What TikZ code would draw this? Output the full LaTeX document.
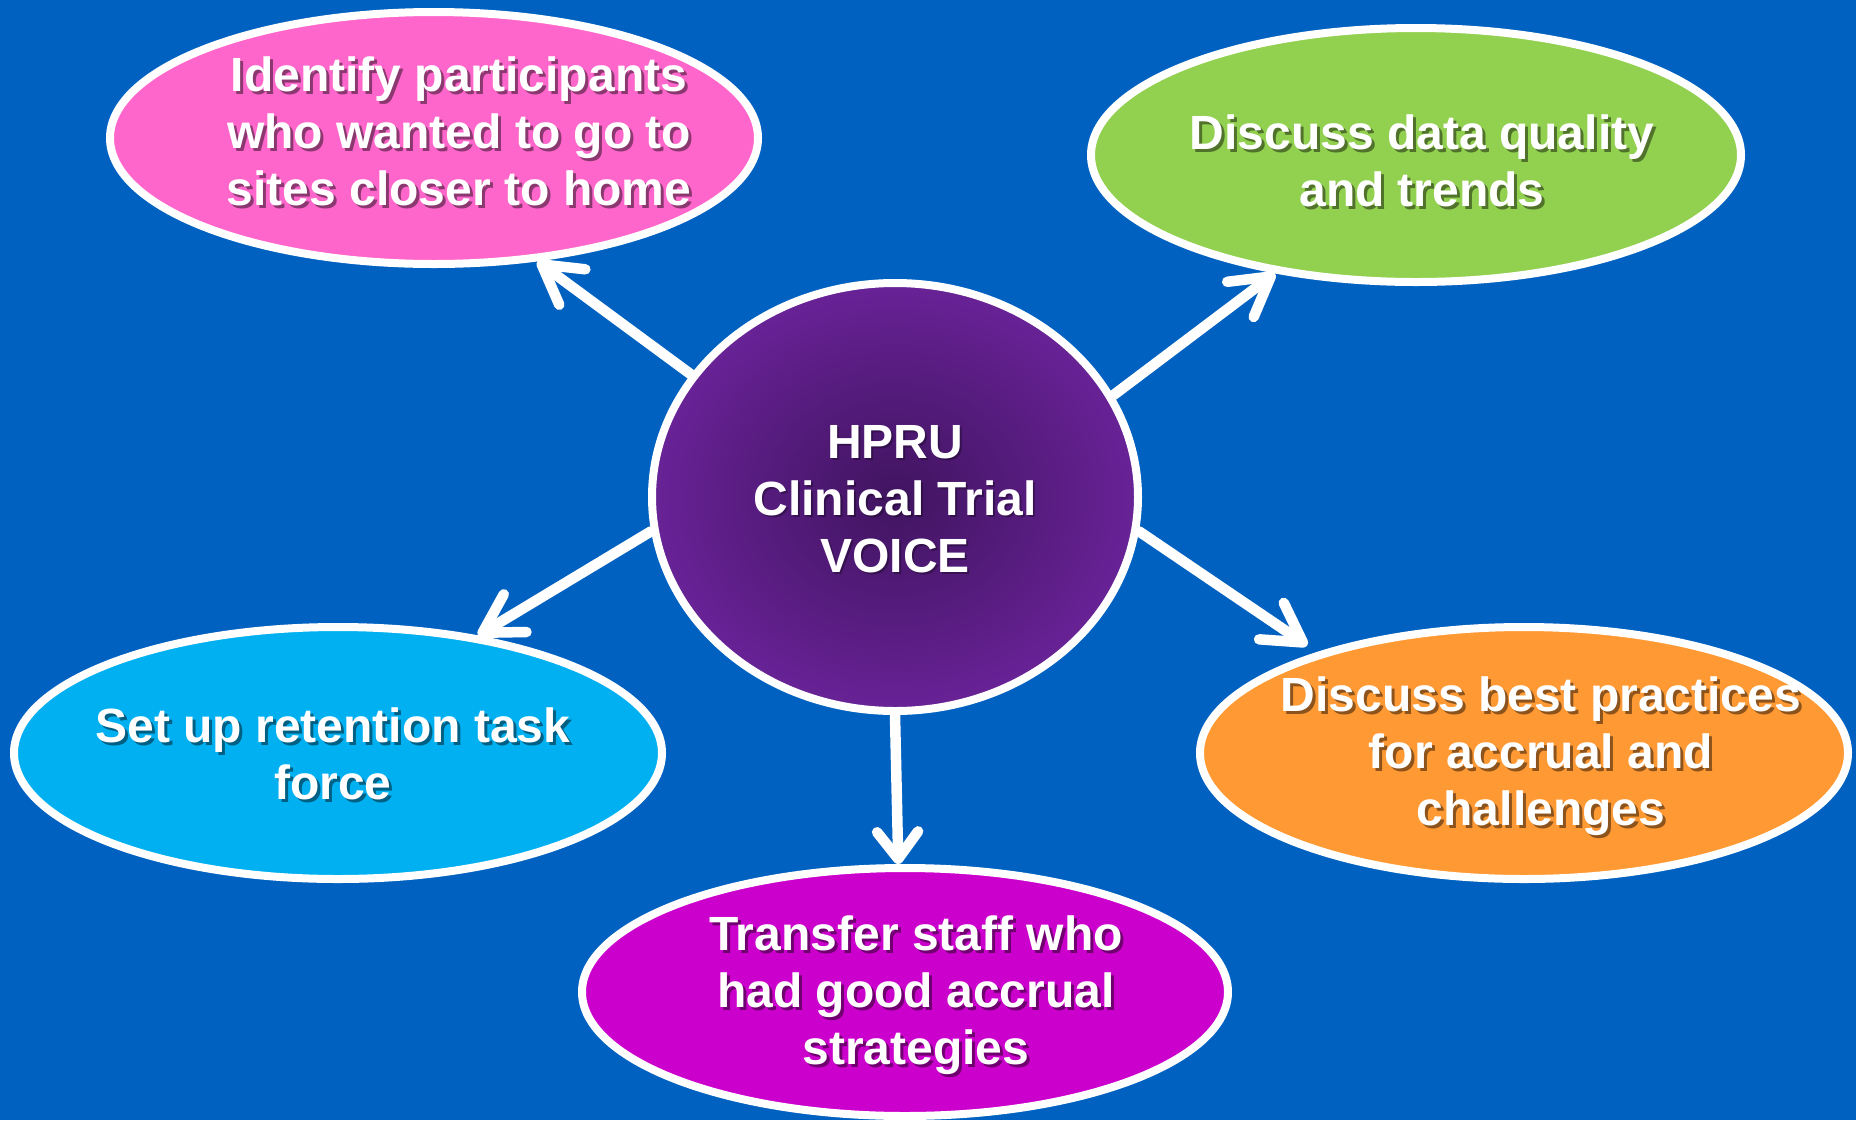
\documentclass[tikz,border=0pt]{standalone}
\usepackage{fontspec}
\setmainfont{Liberation Sans}
\usetikzlibrary{shapes.geometric,arrows.meta}
\definecolor{bg}{RGB}{0,97,193}
\definecolor{pinkc}{RGB}{255,102,204}
\definecolor{greenc}{RGB}{146,208,80}
\definecolor{cyanc}{RGB}{0,176,240}
\definecolor{orangec}{RGB}{255,153,51}
\definecolor{magc}{RGB}{204,0,204}
\definecolor{hubin}{RGB}{64,20,96}
\definecolor{hubout}{RGB}{104,34,150}
\tikzset{
  bubble/.style={ellipse, draw=white, line width=8pt, inner sep=0pt},
  lbl/.style={text=white, font=\fontsize{48}{57}\selectfont\bfseries, align=center, inner sep=0pt},
  lblshadow/.style={lbl, text=black, text opacity=0.45},
  link/.style={draw=white, line width=10.5pt, line cap=round,
    -{Straight Barb[round, length=38pt, width=44pt]}},
  linkshort/.style={draw=white, line width=10.5pt, line cap=round,
    -{Straight Barb[round, length=27pt, width=41pt]}}
}
\begin{document}
\begin{tikzpicture}[x=1pt,y=-1pt]
\useasboundingbox (0,0) rectangle (1856,1120);
\fill[bg] (0,0) rectangle (1856,1120);

% satellite ellipses
\node[bubble, fill=pinkc,   minimum width=648pt, minimum height=252pt] (pink)   at (434,138) {};
\node[bubble, fill=greenc,  minimum width=650pt, minimum height=254pt] (green)  at (1416,155) {};
\node[bubble, fill=cyanc,   minimum width=648pt, minimum height=252pt] (cyan)   at (338,753) {};
\node[bubble, fill=orangec, minimum width=648pt, minimum height=252pt] (orange) at (1524,753) {};
\node[bubble, fill=magc,    minimum width=646pt, minimum height=248pt] (mag)    at (905,992) {};

% hub
\node[bubble, inner color=hubin, outer color=hubout, minimum width=486pt, minimum height=428pt] (hub) at (895,497) {};

% connectors
\draw[link] (hub.149.4) -- (pink.-50.8);
\draw[link] (hub.25.7) -- (green.-140.9);
\draw[link] (hub.188.3) -- (cyan.40.4);
\draw[linkshort] (hub.-90) -- (mag.93.6);
\draw[link, shorten >=12pt] (hub.-8.8) -- (orange.154);

% text shadows
\node[lblshadow] (pinkS)   at (462,134)  {Identify participants\\who wanted to go to\\sites closer to home};
\node[lblshadow] (greenS)  at (1425,164) {Discuss data quality\\and trends};
\node[lblshadow] (cyanS)   at (336,757)  {Set up retention task\\force};
\node[lblshadow] (orangeS) at (1544,759) {Discuss best practices\\for accrual and\\challenges};
\node[lblshadow] (magS)    at (919,998)  {Transfer staff who\\had good accrual\\strategies};
\node[lblshadow, text opacity=0.3] (hubS) at (897,501) {HPRU\\Clinical Trial\\VOICE};

% texts
\node[lbl] (pinkT)   at (459,131)  {Identify participants\\who wanted to go to\\sites closer to home};
\node[lbl] (greenT)  at (1422,161) {Discuss data quality\\and trends};
\node[lbl] (cyanT)   at (333,754)  {Set up retention task\\force};
\node[lbl] (orangeT) at (1541,756) {Discuss best practices\\for accrual and\\challenges};
\node[lbl] (magT)    at (916,995)  {Transfer staff who\\had good accrual\\strategies};
\node[lbl] (hubT)    at (895,499)  {HPRU\\Clinical Trial\\VOICE};
\end{tikzpicture}
\end{document}
